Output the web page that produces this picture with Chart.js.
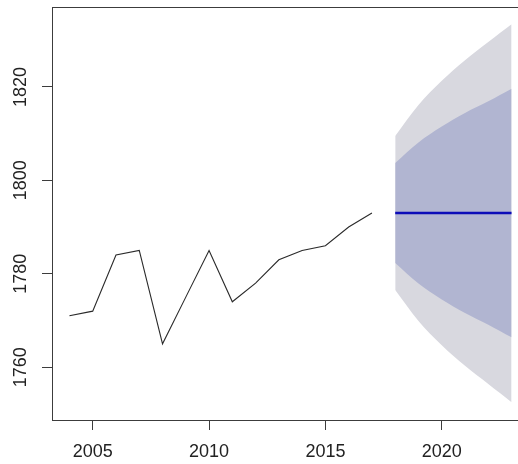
<!DOCTYPE html>
<html>
<head>
<meta charset="utf-8">
<title>Forecast</title>
<script src="https://cdn.jsdelivr.net/npm/chart.js@4/dist/chart.umd.min.js"></script>
<style>
  html, body { margin: 0; padding: 0; background: #ffffff; overflow: hidden; }
  #wrap { width: 540px; height: 464px; }
  canvas { display: block; }
</style>
</head>
<body>
<div id="wrap"><canvas id="chart" width="540" height="464"></canvas></div>
<script>
// Observed annual series
const years = [2004, 2005, 2006, 2007, 2008, 2009, 2010, 2011, 2012, 2013, 2014, 2015, 2016, 2017];
const observed = [1771, 1772, 1784, 1785, 1765, 1775, 1785, 1774, 1778, 1783, 1785, 1786, 1790, 1793];

// Forecast horizon with point forecast and prediction intervals
const forecastYears = [2018, 2019, 2020, 2021, 2022, 2023];
const pointForecast = [1793, 1793, 1793, 1793, 1793, 1793];
const lo80 = [1782.3, 1777.9, 1774.5, 1771.6, 1769.1, 1766.4];
const hi80 = [1803.7, 1808.1, 1811.5, 1814.4, 1816.9, 1819.6];
const lo95 = [1776.5, 1769.9, 1764.7, 1760.3, 1756.4, 1752.5];
const hi95 = [1809.5, 1816.1, 1821.3, 1825.7, 1829.6, 1833.4];

// Axis tick labels
const xTickValues = [2005, 2010, 2015, 2020];
const yTickValues = [1760, 1780, 1800, 1820];

const pts = (xs, ys) => xs.map((x, i) => ({ x: x, y: ys[i] }));

const FONT = { family: '"Liberation Sans", Arial, sans-serif', size: 18 };
const TEXT = '#222222';
const AXIS = '#3c3c3c';

const X_MIN = 2003.25, X_MAX = 2023.75;
const Y_MIN = 1748.7, Y_MAX = 1837.1;

// Keep the plot box fixed: no extra room reserved for edge labels
const noEdgePadding = (s) => {
  s.paddingTop = 0; s.paddingBottom = 0; s.paddingLeft = 0; s.paddingRight = 0;
};

new Chart(document.getElementById('chart'), {
  type: 'line',
  data: {
    datasets: [
      {
        label: 'observed',
        data: pts(years, observed),
        borderColor: '#2a2a2a',
        borderWidth: 1.1,
        pointRadius: 0,
        tension: 0,
        fill: false
      },
      {
        label: 'forecast',
        data: pts(forecastYears, pointForecast),
        borderColor: '#0c0cb8',
        borderWidth: 2.4,
        pointRadius: 0,
        tension: 0,
        fill: false
      },
      {
        label: 'hi80',
        data: pts(forecastYears, hi80),
        borderColor: 'transparent',
        borderWidth: 0,
        pointRadius: 0,
        tension: 0.35,
        backgroundColor: '#b1b5d1',
        fill: '+1'
      },
      {
        label: 'lo80',
        data: pts(forecastYears, lo80),
        borderColor: 'transparent',
        borderWidth: 0,
        pointRadius: 0,
        tension: 0.35,
        fill: false
      },
      {
        label: 'hi95',
        data: pts(forecastYears, hi95),
        borderColor: 'transparent',
        borderWidth: 0,
        pointRadius: 0,
        tension: 0.35,
        backgroundColor: '#d8d8df',
        fill: '+1'
      },
      {
        label: 'lo95',
        data: pts(forecastYears, lo95),
        borderColor: 'transparent',
        borderWidth: 0,
        pointRadius: 0,
        tension: 0.35,
        fill: false
      }
    ]
  },
  options: {
    responsive: false,
    animation: false,
    devicePixelRatio: 1,
    layout: { padding: { top: 7, left: 0, right: 11, bottom: 0 } },
    plugins: {
      legend: { display: false },
      tooltip: { enabled: false }
    },
    scales: {
      x: {
        type: 'linear',
        position: 'bottom',
        min: X_MIN,
        max: X_MAX,
        afterBuildTicks: (s) => { s.ticks = xTickValues.map(v => ({ value: v })); },
        afterFit: (s) => { s.height = 44; noEdgePadding(s); },
        ticks: {
          autoSkip: false,
          maxRotation: 0,
          minRotation: 0,
          padding: 11,
          color: TEXT,
          font: FONT,
          callback: (v) => String(v)
        },
        grid: { drawOnChartArea: false, drawTicks: true, tickLength: 10, color: AXIS, lineWidth: 1 },
        border: { display: true, color: AXIS, width: 1 }
      },
      xTop: {
        type: 'linear',
        position: 'top',
        min: X_MIN,
        max: X_MAX,
        afterFit: (s) => { s.height = 0; noEdgePadding(s); },
        ticks: { display: false },
        grid: { display: false, drawOnChartArea: false, drawTicks: false },
        border: { display: true, color: AXIS, width: 1 }
      },
      y: {
        type: 'linear',
        position: 'left',
        min: Y_MIN,
        max: Y_MAX,
        afterBuildTicks: (s) => { s.ticks = yTickValues.map(v => ({ value: v })); },
        afterFit: (s) => { s.width = 52; noEdgePadding(s); },
        ticks: {
          autoSkip: false,
          minRotation: 90,
          maxRotation: 90,
          crossAlign: 'center',
          padding: 1,
          color: TEXT,
          font: FONT,
          callback: (v) => String(v)
        },
        grid: { drawOnChartArea: false, drawTicks: true, tickLength: 10, color: AXIS, lineWidth: 1 },
        border: { display: true, color: AXIS, width: 1 }
      }
    }
  }
});
</script>
</body>
</html>
